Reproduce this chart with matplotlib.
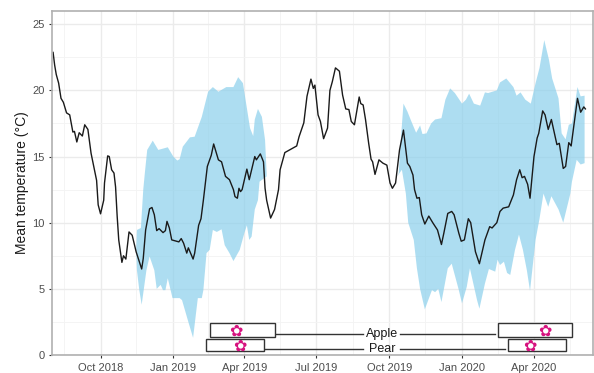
import numpy as np
import matplotlib
matplotlib.use('Agg')
from matplotlib import pyplot as plt
from matplotlib.patches import Rectangle
import matplotlib.dates as mdates

plt.rcParams['font.family'] = ['Liberation Sans', 'DejaVu Sans']

# days are counted from 1 Oct 2018
start = np.datetime64('2018-10-01')

line_day = [-60, -58, -56, -53, -50, -47, -43, -39, -35, -33, -30, -27, -23, -20, -16, -12, -5, -3, 0, 4, 5, 9, 11, 14,
            17, 19, 21, 23, 27, 29, 32, 36, 40, 45, 52, 54, 57, 62, 65, 68, 71, 74, 79, 82, 84, 87, 90, 96, 99, 102,
            105, 109, 111, 117, 119, 124, 127, 130, 135, 140, 143, 149, 153, 158, 163, 168, 170, 173, 175, 177, 179,
            185, 188, 195, 197, 202, 206, 208, 210, 215, 220, 225, 227, 233, 248, 251, 257, 261, 266, 269, 271, 275,
            278, 282, 287, 290, 293, 297, 302, 306, 310, 314, 317, 321, 327, 329, 332, 335, 339, 342, 344, 347, 352,
            357, 362, 366, 369, 373, 378, 383, 388, 391, 395, 397, 400, 403, 406, 410, 415, 420, 426, 431, 434, 439,
            444, 447, 453, 456, 460, 465, 468, 474, 479, 486, 492, 495, 501, 505, 509, 516, 522, 526, 530, 533, 536,
            540, 543, 548, 552, 554, 559, 562, 566, 570, 577, 580, 585, 588, 592, 595, 603, 607, 611, 613]
line_temp = [22.87, 21.9, 21.2, 20.55, 19.4, 19.1, 18.3, 18.15, 16.85, 16.9, 16.1, 16.8, 16.55, 17.4, 17.05, 15.25, 13.2,
             11.35, 10.67, 11.7, 13.0, 15.05, 15.0, 14.0, 13.75, 12.7, 10.5, 8.7, 7.0, 7.5, 7.25, 9.3, 9.05, 7.8, 6.5,
             7.3, 9.45, 11.05, 11.15, 10.6, 9.4, 9.55, 9.25, 9.4, 10.1, 9.6, 8.7, 8.6, 8.55, 8.8, 8.45, 7.7, 8.1, 7.25,
             7.7, 9.8, 10.3, 11.7, 14.25, 15.1, 15.95, 14.75, 14.6, 13.5, 13.25, 12.5, 11.97, 11.85, 12.6, 12.35, 12.5,
             14.05, 13.25, 15.0, 14.75, 15.2, 14.6, 12.6, 11.7, 10.35, 11.0, 12.5, 14.0, 15.3, 15.8, 16.5, 17.55, 19.55,
             20.85, 20.15, 20.4, 18.15, 17.65, 16.35, 17.15, 20.0, 20.65, 21.7, 21.45, 19.65, 18.6, 18.55, 17.65, 17.4,
             19.5, 19.0, 18.9, 17.8, 16.0, 14.8, 14.6, 13.65, 14.75, 14.5, 14.35, 13.0, 12.6, 13.0, 15.5, 17.0, 14.5,
             14.25, 13.6, 12.5, 11.85, 11.9, 10.6, 9.9, 10.5, 10.0, 9.45, 8.35, 9.2, 10.7, 10.85, 10.6, 9.2, 8.6, 8.7,
             10.3, 10.0, 7.8, 6.9, 8.7, 9.7, 9.6, 10.0, 10.85, 11.1, 11.2, 12.1, 13.25, 14.0, 13.4, 13.5, 12.9, 11.85,
             15.0, 16.4, 16.75, 18.45, 18.15, 17.05, 17.8, 15.9, 16.0, 14.1, 14.25, 16.05, 15.8, 19.4, 18.35, 18.75,
             18.6]

upper1_day = [45, 46, 51, 54, 56, 59, 66, 73, 85, 92, 97, 100, 104, 113, 119, 128, 136, 142, 149, 159, 168, 174, 180,
              189, 193, 195, 199, 204, 208, 210]
upper1_temp = [8.0, 9.45, 9.6, 12.5, 13.75, 15.5, 16.2, 15.5, 15.7, 15.0, 14.7, 14.8, 15.75, 16.45, 16.5, 18.0, 19.9,
               20.25, 19.9, 20.25, 20.25, 21.0, 20.55, 17.15, 16.55, 17.8, 18.6, 18.0, 16.25, 13.75]
lower1_day = [46, 49, 52, 58, 62, 68, 71, 76, 79, 82, 85, 91, 100, 103, 111, 117, 123, 128, 130, 134, 138, 142, 147,
              153, 157, 163, 168, 176, 182, 185, 188, 191, 195, 199, 201, 210]
lower1_temp = [6.4, 4.9, 3.8, 6.4, 7.45, 6.4, 5.0, 5.3, 4.9, 4.9, 5.8, 4.3, 4.3, 4.15, 2.5, 1.3, 4.3, 4.3, 4.9, 7.7,
               7.95, 9.45, 9.3, 9.5, 8.3, 7.7, 7.1, 7.95, 9.25, 9.8, 8.7, 8.95, 11.0, 11.7, 13.1, 13.5]

upper2_day = [375, 377, 379, 383, 388, 393, 399, 404, 407, 412, 418, 423, 431, 436, 442, 448, 457, 462, 466, 472, 480,
              486, 490, 501, 505, 513, 522, 526, 531, 537, 544, 550, 555, 561, 567, 571, 579, 583, 588, 592, 596, 603,
              607, 612]
upper2_temp = [13.5, 13.75, 15.75, 19.0, 18.4, 17.65, 16.8, 17.35, 16.7, 16.75, 17.5, 17.8, 17.9, 19.3, 20.15, 19.8,
               19.0, 19.3, 19.75, 19.0, 18.85, 19.85, 19.8, 20.0, 20.6, 20.9, 20.25, 19.6, 19.85, 19.3, 19.0, 20.55,
               21.7, 23.8, 22.3, 20.9, 19.4, 16.75, 16.3, 17.4, 17.5, 20.25, 19.55, 19.6]
lower2_day = [375, 381, 386, 389, 396, 400, 404, 410, 419, 423, 427, 431, 439, 444, 453, 457, 463, 467, 476, 479, 486,
              491, 499, 502, 505, 510, 514, 518, 524, 529, 534, 539, 543, 550, 555, 560, 566, 570, 579, 585, 594, 596,
              602, 607, 612]
lower2_temp = [13.5, 14.0, 12.2, 10.0, 8.7, 6.55, 5.0, 3.45, 4.9, 4.75, 5.0, 4.0, 6.55, 6.9, 4.9, 3.9, 5.15, 6.55, 4.15,
               3.5, 5.4, 6.5, 6.3, 7.2, 6.8, 7.05, 6.2, 6.05, 7.95, 9.1, 7.95, 6.4, 4.85, 8.7, 10.3, 12.2, 11.2, 12.0,
               11.0, 10.0, 12.2, 13.1, 14.75, 14.4, 14.5]

tick_dates = ['2018-10-01', '2019-01-01', '2019-04-01', '2019-07-01', '2019-10-01', '2020-01-01', '2020-04-01']
minor_dates = ['2018-08-16', '2018-11-15', '2019-02-14', '2019-05-16', '2019-08-16', '2019-11-15', '2020-02-15',
               '2020-05-16']

# flowering periods: start day, end day, full bloom day
apple_periods = [(139, 221, 171), (503, 596, 562)]
pear_periods = [(133, 207, 176), (515, 589, 543)]


def to_date(days):
    return start + np.array(days).astype('timedelta64[D]')


def date_num(days):
    return mdates.date2num(to_date(days))


fig = plt.figure(figsize=(5.94, 3.73), dpi=100)
ax = fig.add_axes([52.3 / 594, 18 / 373, 541 / 594, 344 / 373])
ax.set_axisbelow(True)

ax.fill(np.r_[date_num(upper1_day), date_num(lower1_day)[::-1]], np.r_[upper1_temp, lower1_temp[::-1]],
        color='#87CEEB', alpha=0.68, lw=0)
ax.fill(np.r_[date_num(upper2_day), date_num(lower2_day)[::-1]], np.r_[upper2_temp, lower2_temp[::-1]],
        color='#87CEEB', alpha=0.68, lw=0)
ax.plot(date_num(line_day), line_temp, color='#1a1a1a', lw=1.0)

# phenology boxes under the curve
for name, periods, y0, y1, ly, tx in [('Apple', apple_periods, 1.37, 2.42, 1.6, 1.62),
                                      ('Pear', pear_periods, 0.27, 1.2, 0.43, 0.42)]:
    for s, e, bloom in periods:
        ax.add_patch(Rectangle((date_num(s), y0), date_num(e) - date_num(s), y1 - y0, fc='white', ec='#333333',
                               lw=1.0, zorder=3))
        ax.text(date_num(bloom), (y0 + y1) / 2 + 0.04, '\u273f', color='#D6127F', fontsize=11.5, ha='center',
                va='center_baseline', family='DejaVu Sans', fontweight='bold', zorder=4)
    ax.plot(date_num([periods[0][1], 332]), [ly, ly], color='#333333', lw=1.0, zorder=2)
    ax.plot(date_num([379, periods[1][0] - 4]), [ly, ly], color='#333333', lw=1.0, zorder=2)
    ax.text(date_num(356), tx, name, ha='center', va='center', fontsize=9, color='#1a1a1a', zorder=4)

ax.set_xlim(date_num(-61.6), date_num(623.5))
ax.set_ylim(0, 26)
ax.set_xticks(mdates.date2num(np.array(tick_dates, dtype='datetime64[D]')))
ax.set_xticks(mdates.date2num(np.array(minor_dates, dtype='datetime64[D]')), minor=True)
ax.xaxis.set_major_formatter(mdates.DateFormatter('%b %Y'))
ax.set_yticks([0, 5, 10, 15, 20, 25])
ax.set_yticks([2.5, 7.5, 12.5, 17.5, 22.5], minor=True)

ax.grid(which='major', color='#EBEBEB', lw=1.0)
ax.grid(which='minor', color='#F3F3F3', lw=0.6)
ax.tick_params(which='major', length=2.5, width=0.8, color='#333333', labelsize=8, labelcolor='#4D4D4D', pad=3)
ax.tick_params(which='minor', length=0)
for s in ax.spines.values():
    s.set_color('#B0B0B0')
    s.set_linewidth(1.2)

ax.set_ylabel('Mean temperature (\u00b0C)', fontsize=10, color='#1a1a1a')
ax.yaxis.set_label_coords(-23 / 541, 0.5)

fig.savefig('out.png', dpi=100)
